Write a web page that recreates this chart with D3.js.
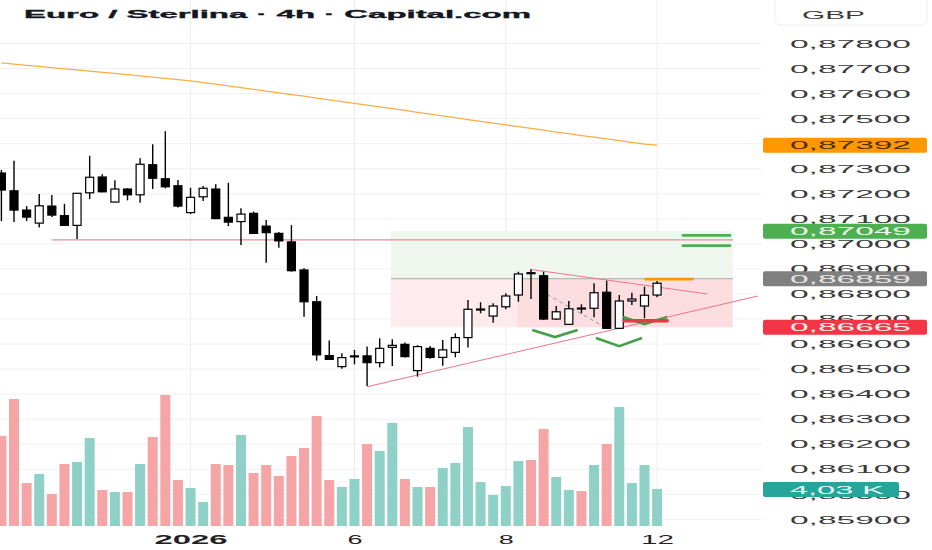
<!DOCTYPE html>
<html>
<head>
<meta charset="utf-8">
<script src="https://cdn.jsdelivr.net/npm/d3@7"></script>
<style>
  body { margin: 0; background: #fff; }
  svg { display: block; font-family: "Liberation Sans", Arial, sans-serif; }
</style>
</head>
<body>
<svg id="chart" width="932" height="550"></svg>
<script>
// 4h candles, EUR/GBP
const opens  = [0.87281,0.87210,0.87133,0.87081,0.87149,0.87111,0.87072,0.87202,0.87265,0.87165,0.87217,0.87194,0.87314,0.87258,0.87230,0.87123,0.87186,0.87217,0.87104,0.87087,0.87120,0.87069,0.87040,0.87006,0.86894,0.86767,0.86552,0.86508,0.86548,0.86551,0.86524,0.86585,0.86597,0.86492,0.86581,0.86545,0.86565,0.86624,0.86737,0.86710,0.86747,0.86794,0.86883,0.86871,0.86698,0.86677,0.86742,0.86741,0.86805,0.86661,0.86770,0.86750,0.86794];
const highs  = [0.87293,0.87330,0.87149,0.87197,0.87193,0.87158,0.87201,0.87350,0.87276,0.87252,0.87221,0.87340,0.87396,0.87448,0.87253,0.87222,0.87229,0.87236,0.87242,0.87140,0.87127,0.87093,0.87046,0.87073,0.86901,0.86790,0.86612,0.86561,0.86575,0.86588,0.86621,0.86617,0.86604,0.86594,0.86590,0.86614,0.86641,0.86774,0.86765,0.86761,0.86801,0.86887,0.86897,0.86887,0.86750,0.86770,0.86757,0.86841,0.86851,0.86794,0.86803,0.86827,0.86850];
const lows   = [0.87089,0.87085,0.87089,0.87063,0.87105,0.87071,0.87018,0.87177,0.87204,0.87164,0.87172,0.87162,0.87217,0.87220,0.87143,0.87117,0.87169,0.87096,0.87069,0.86994,0.87039,0.86923,0.86983,0.86887,0.86707,0.86532,0.86536,0.86500,0.86517,0.86431,0.86505,0.86511,0.86545,0.86468,0.86540,0.86512,0.86545,0.86584,0.86721,0.86683,0.86737,0.86767,0.86778,0.86694,0.86694,0.86676,0.86721,0.86705,0.86658,0.86658,0.86754,0.86701,0.86785];
const closes = [0.87213,0.87133,0.87105,0.87150,0.87113,0.87072,0.87200,0.87264,0.87206,0.87217,0.87194,0.87316,0.87260,0.87226,0.87149,0.87184,0.87220,0.87099,0.87085,0.87117,0.87040,0.87043,0.87010,0.86891,0.86767,0.86555,0.86537,0.86544,0.86551,0.86524,0.86581,0.86593,0.86548,0.86588,0.86545,0.86575,0.86624,0.86737,0.86738,0.86750,0.86790,0.86878,0.86880,0.86698,0.86727,0.86739,0.86739,0.86803,0.86661,0.86770,0.86778,0.86793,0.86841];
// volume in thousands
const volumes = [9.80,13.83,4.68,5.66,3.49,6.75,6.97,9.59,3.92,3.70,3.70,6.75,9.69,14.27,5.01,4.14,2.61,6.75,6.64,9.91,5.77,6.64,5.45,7.62,8.50,11.98,5.01,4.25,5.12,8.93,8.17,11.22,5.12,4.25,4.25,6.32,6.86,10.78,4.79,3.38,4.36,7.08,7.19,10.57,5.34,3.92,3.81,6.64,8.93,12.96,4.68,6.64,4.03];
// moving average read at each candle
const maValues = [0.87721,0.87716,0.87711,0.87707,0.87702,0.87697,0.87693,0.87688,0.87683,0.87679,0.87674,0.87669,0.87664,0.87659,0.87654,0.87649,0.87642,0.87636,0.87629,0.87622,0.87615,0.87608,0.87601,0.87594,0.87588,0.87580,0.87573,0.87566,0.87559,0.87552,0.87545,0.87538,0.87531,0.87523,0.87516,0.87509,0.87502,0.87494,0.87487,0.87480,0.87473,0.87466,0.87459,0.87452,0.87444,0.87438,0.87430,0.87424,0.87417,0.87410,0.87403,0.87396,0.87392];

const xTickIdx = [15, 28, 40, 52];
const xTickLabels = ['2026', '6', '8', '12'];
const priceTicks = [0.878,0.877,0.876,0.875,0.874,0.873,0.872,0.871,0.870,0.869,0.868,0.867,0.866,0.865,0.864,0.863,0.862,0.861,0.860,0.859];

const tagValues = [0.87392, 0.87049, 0.86859, 0.86665];
const tagColors = ['#ff9800', '#4caf50', '#808080', '#f23645'];
const tagText   = ['#4a2e00', '#eef8ee', '#e6e6e6', '#fff2f3'];
const lastVolume = 4.03;

// drawings: [idx1, price1, idx2, price2]
const trendLines = [[29, 0.86428, 60, 0.86790], [42, 0.86896, 56, 0.86798]];
const dashedLine = [42.8, 0.86810, 47.7, 0.86670];
const resistance = [4, 0.87014, 58, 0.87014];
// long position tool
const posFrom = 30.9, posTo = 58, posFilled = 40.9;
const posTarget = 0.87049, posEntry = 0.86859, posStop = 0.86665;
// small marks
const greenTicks = [[54.05, 57.78, 0.87032], [54.05, 57.78, 0.86991]];
const orangeMark = [51.1, 54.8, 0.86857];
const redMark = [49.4, 52.8, 0.86691];
const chevrons = [[42.1, 43.9, 45.7, 0.86654, 0.86626], [47.15, 49.0, 50.8, 0.86622, 0.86590], [49.3, 51.0, 52.8, 0.86706, 0.86678]];

const svg = d3.select('#chart');
const x = d3.scaleLinear().domain([0, 52]).range([1.4, 657.1]);
const y = d3.scaleLinear().domain([0.859, 0.878]).range([518.95, 43]);
const yVol = d3.scaleLinear().domain([0, lastVolume]).range([526, 489]);
const plotRight = 762, plotBottom = 527;
const fmt = v => d3.format('.5f')(v).replace('.', ',');

const candles = opens.map((o, i) => ({ i, o, h: highs[i], l: lows[i], c: closes[i], v: volumes[i], up: closes[i] >= o }));

// grid
const grid = svg.append('g');
grid.selectAll('.hg').data(priceTicks).enter().append('line')
  .attr('x1', 0).attr('x2', plotRight)
  .attr('y1', d => y(d) + 0.5).attr('y2', d => y(d) + 0.5)
  .attr('stroke', '#f1f1f1');
grid.selectAll('.vg').data(xTickIdx).enter().append('line')
  .attr('x1', d => x(d)).attr('x2', d => x(d))
  .attr('y1', 0).attr('y2', plotBottom)
  .attr('stroke', '#ededed');

// position tool
const pos = svg.append('g');
pos.append('rect').attr('x', x(posFrom)).attr('width', x(posTo) - x(posFrom))
  .attr('y', y(posTarget)).attr('height', y(posEntry) - y(posTarget)).attr('fill', '#eef6ee');
pos.append('rect').attr('x', x(posFrom)).attr('width', x(posTo) - x(posFrom))
  .attr('y', y(posEntry)).attr('height', y(posStop) - y(posEntry)).attr('fill', '#fdebed');
pos.append('rect').attr('x', x(posFilled)).attr('width', x(posTo) - x(posFilled))
  .attr('y', y(posEntry)).attr('height', y(posStop) - y(posEntry)).attr('fill', 'rgba(242,54,69,0.07)');
pos.append('line').attr('x1', x(posFrom)).attr('x2', x(posTo))
  .attr('y1', y(posEntry)).attr('y2', y(posEntry)).attr('stroke', '#a8a8a8').attr('stroke-width', 1);

// lines
svg.append('line').attr('x1', x(resistance[0])).attr('y1', y(resistance[1]))
  .attr('x2', x(resistance[2])).attr('y2', y(resistance[3]))
  .attr('stroke', '#eb8a9a').attr('stroke-width', 1.1);
svg.selectAll('.trend').data(trendLines).enter().append('line')
  .attr('x1', d => x(d[0])).attr('y1', d => y(d[1]))
  .attr('x2', d => x(d[2])).attr('y2', d => y(d[3]))
  .attr('stroke', '#ea7890').attr('stroke-width', 1.1);
svg.append('line').attr('x1', x(dashedLine[0])).attr('y1', y(dashedLine[1]))
  .attr('x2', x(dashedLine[2])).attr('y2', y(dashedLine[3]))
  .attr('stroke', '#9a9a9a').attr('stroke-width', 1).attr('stroke-dasharray', '4,3');

// moving average
svg.append('path').datum(maValues)
  .attr('d', d3.line().x((d, i) => x(i)).y(d => y(d)))
  .attr('fill', 'none').attr('stroke', '#f8ae45').attr('stroke-width', 1.3);

// volume
svg.append('g').selectAll('rect').data(candles).enter().append('rect')
  .attr('x', d => x(d.i) - 5).attr('width', 10)
  .attr('y', d => yVol(d.v)).attr('height', d => yVol(0) - yVol(d.v))
  .attr('fill', d => d.up ? '#8fd1c7' : '#f5a5a5');

// candles
const cg = svg.append('g');
cg.selectAll('.wick').data(candles).enter().append('line')
  .attr('x1', d => x(d.i)).attr('x2', d => x(d.i))
  .attr('y1', d => y(d.h)).attr('y2', d => y(d.l))
  .attr('stroke', '#000').attr('stroke-width', 1.4);
cg.selectAll('.body').data(candles).enter().append('rect')
  .attr('x', d => x(d.i) - 4).attr('width', 8)
  .attr('y', d => y(Math.max(d.o, d.c)))
  .attr('height', d => Math.max(1, Math.abs(y(d.o) - y(d.c))))
  .attr('fill', d => d.up ? '#fff' : '#000')
  .attr('stroke', '#000').attr('stroke-width', 1.2);

// marks
svg.selectAll('.chev').data(chevrons).enter().append('path')
  .attr('d', d => `M${x(d[0])},${y(d[3])}L${x(d[1])},${y(d[4])}L${x(d[2])},${y(d[3])}`)
  .attr('fill', 'none').attr('stroke', '#43a047').attr('stroke-width', 2.6);
svg.selectAll('.gt').data(greenTicks).enter().append('line')
  .attr('x1', d => x(d[0])).attr('x2', d => x(d[1]))
  .attr('y1', d => y(d[2])).attr('y2', d => y(d[2]))
  .attr('stroke', '#4caf50').attr('stroke-width', 2.6).attr('stroke-linecap', 'round');
svg.append('line').attr('x1', x(orangeMark[0])).attr('x2', x(orangeMark[1]))
  .attr('y1', y(orangeMark[2])).attr('y2', y(orangeMark[2]))
  .attr('stroke', '#ff9800').attr('stroke-width', 2.8).attr('stroke-linecap', 'round');
svg.append('line').attr('x1', x(redMark[0])).attr('x2', x(redMark[1]))
  .attr('y1', y(redMark[2])).attr('y2', y(redMark[2]))
  .attr('stroke', '#e53945').attr('stroke-width', 3.6).attr('stroke-linecap', 'round');

// title
svg.append('text').attr('x', 24).attr('y', 17.5)
  .attr('font-size', 10.5).attr('font-weight', 'bold').attr('fill', '#131722')
  .attr('stroke', '#131722').attr('stroke-width', 0.3)
  .attr('textLength', 507).attr('lengthAdjust', 'spacingAndGlyphs')
  .text('Euro / Sterlina · 4h · Capital.com');

// x axis
const xAxis = svg.append('g').attr('transform', `translate(0,${plotBottom})`)
  .call(d3.axisBottom(x).tickValues(xTickIdx).tickSize(0).tickPadding(0)
    .tickFormat((d, i) => xTickLabels[i]));
xAxis.select('.domain').remove();
const xLens = [73, 15, 15, 33];
xAxis.selectAll('text')
  .attr('y', 17).attr('dy', null)
  .attr('font-family', '"Liberation Sans", Arial, sans-serif')
  .attr('font-size', (d, i) => i === 0 ? 13 : 12)
  .attr('font-weight', (d, i) => i === 0 ? 'bold' : 'normal')
  .attr('fill', '#222')
  .attr('textLength', (d, i) => xLens[i]).attr('lengthAdjust', 'spacingAndGlyphs');

// y axis
const yAxis = svg.append('g').attr('transform', 'translate(790,0)')
  .call(d3.axisRight(y).tickValues(priceTicks).tickSize(0).tickPadding(0).tickFormat(fmt));
yAxis.select('.domain').remove();
yAxis.selectAll('text')
  .attr('x', 0).attr('dy', '0.36em')
  .attr('text-anchor', 'start')
  .attr('font-family', '"Liberation Sans", Arial, sans-serif')
  .attr('font-size', 11.5).attr('fill', '#3a3a3a')
  .attr('textLength', 121).attr('lengthAdjust', 'spacingAndGlyphs');

// currency box
svg.append('rect').attr('x', 775).attr('y', -6).attr('width', 152).attr('height', 31).attr('rx', 6)
  .attr('fill', '#fff').attr('stroke', '#f0f0f0');
svg.append('text').attr('x', 802).attr('y', 19).attr('font-size', 11.5).attr('fill', '#3a3a3a')
  .attr('textLength', 63).attr('lengthAdjust', 'spacingAndGlyphs').text('GBP');

// price tags
const tags = svg.append('g').selectAll('g').data(tagValues).enter().append('g');
tags.append('rect').attr('x', 763).attr('width', 164).attr('height', 15).attr('rx', 2)
  .attr('y', d => y(d) - 7.5).attr('fill', (d, i) => tagColors[i]);
tags.append('text').attr('x', 790).attr('y', d => y(d)).attr('dy', '0.36em')
  .attr('font-size', 11.5).attr('fill', (d, i) => tagText[i])
  .attr('textLength', 121).attr('lengthAdjust', 'spacingAndGlyphs')
  .text(fmt);

// volume tag
svg.append('rect').attr('x', 763).attr('width', 136).attr('height', 15).attr('rx', 2)
  .attr('y', yVol(lastVolume) - 7).attr('fill', '#26a69a');
svg.append('text').attr('x', 790).attr('y', yVol(lastVolume) + 0.5).attr('dy', '0.36em')
  .attr('font-size', 11.5).attr('fill', '#e9f7f5')
  .attr('textLength', 94).attr('lengthAdjust', 'spacingAndGlyphs')
  .text(d3.format('.2f')(lastVolume).replace('.', ',') + ' K');
</script>
</body>
</html>
